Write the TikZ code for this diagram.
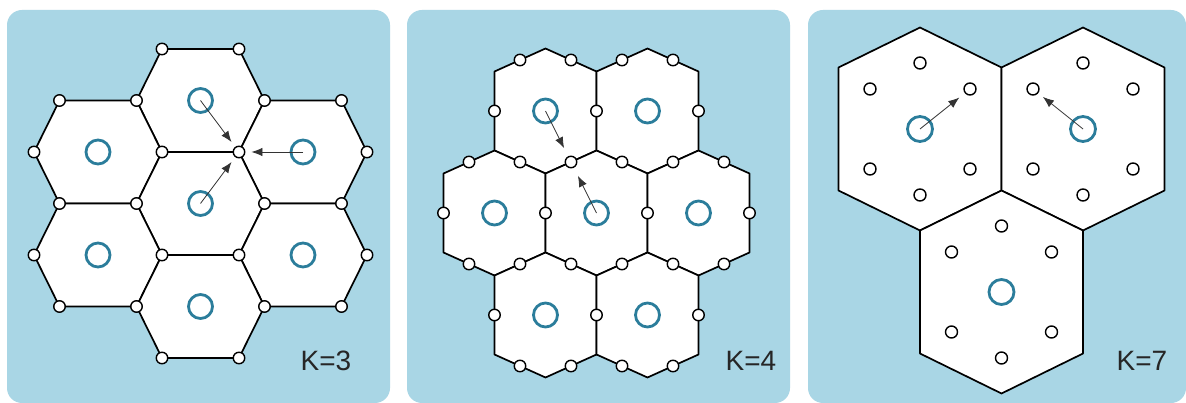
\documentclass[tikz,border=0pt]{standalone}
\usepackage{fontspec}
\setmainfont{Liberation Sans}
\usetikzlibrary{arrows.meta}
\definecolor{panelblue}{HTML}{A9D6E5}
\definecolor{cellblue}{HTML}{2B7D9B}

\begin{document}
\begin{tikzpicture}[x=1pt, y=-1pt,
  panel/.style={fill=panelblue, rounded corners=15pt},
  cell/.style={draw=black, fill=white, line width=1.7pt, line join=round},
  base/.style={circle, draw=cellblue, line width=2.8pt, minimum size=24pt, inner sep=0pt},
  user/.style={circle, draw=black, fill=white, line width=1.4pt, minimum size=11.5pt, inner sep=0pt},
  hop/.style={-{Latex[length=11pt,width=8.5pt]}, draw=black!80, line width=0.8pt},
  klabel/.style={font=\fontsize{28}{30}\selectfont, text=black!85}]
\useasboundingbox (0,0) rectangle (1186,403);
\fill[white] (0,0) rectangle (1186,403);
% panels
\fill[panel] (7,10) rectangle (390,403);
\fill[panel] (407,10) rectangle (790,403);
\fill[panel] (808,10) rectangle (1186,403);

% K=3
\foreach \cx/\cy in {200.5/100.5, 98/152, 303/152, 200.5/203.5, 98/255, 303/255, 200.5/306.5}
  \draw[cell] (\cx-64,\cy) -- (\cx-38.5,\cy-51.5) -- (\cx+38.5,\cy-51.5) -- (\cx+64,\cy)
    -- (\cx+38.5,\cy+51.5) -- (\cx-38.5,\cy+51.5) -- cycle;
\foreach \x/\y [count=\i] in {162/49, 239/49,
    59.5/100.5, 136.5/100.5, 264.5/100.5, 341.5/100.5,
    34/152, 162/152, 367/152,
    59.5/203.5, 136.5/203.5, 264.5/203.5, 341.5/203.5,
    34/255, 162/255, 239/255, 367/255,
    59.5/306.5, 136.5/306.5, 264.5/306.5, 341.5/306.5,
    162/358, 239/358}
  \node[user] (ta\i) at (\x,\y) {};
\node[user] (va) at (239,152) {};
\foreach \cx/\cy [count=\i] in {200.5/100.5, 303/152, 200.5/203.5, 98/152, 98/255, 303/255, 200.5/306.5}
  \node[base] (ba\i) at (\cx,\cy) {};
\draw[hop, shorten >=6pt] (ba1.center) -- (va);
\draw[hop, shorten >=6pt] (ba2.center) -- (va);
\draw[hop, shorten >=6pt] (ba3.center) -- (va);
\node[klabel] (k3) at (326,361) {K=3};

% K=4
\foreach \cx/\cy in {545.5/111, 647.5/111, 494.5/213, 596.5/213, 698.5/213, 545.5/315, 647.5/315}
  \draw[cell] (\cx,\cy-62.5) -- (\cx+51,\cy-39.5) -- (\cx+51,\cy+39.5) -- (\cx,\cy+62.5)
    -- (\cx-51,\cy+39.5) -- (\cx-51,\cy-39.5) -- cycle;
\foreach \x/\y [count=\i] in {520/60, 571/60, 622/60, 673/60,
    494.5/111, 596.5/111, 698.5/111,
    469/162, 520/162, 622/162, 673/162, 724/162,
    443.5/213, 545.5/213, 647.5/213, 749.5/213,
    469/264, 520/264, 571/264, 622/264, 673/264, 724/264,
    494.5/315, 596.5/315, 698.5/315,
    520/366, 571/366, 622/366, 673/366}
  \node[user] (tb\i) at (\x,\y) {};
\node[user] (vb) at (571,162) {};
\foreach \cx/\cy [count=\i] in {545.5/111, 647.5/111, 494.5/213, 596.5/213, 698.5/213, 545.5/315, 647.5/315}
  \node[base] (bb\i) at (\cx,\cy) {};
\draw[hop, shorten >=9pt] (bb1.center) -- (vb);
\draw[hop, shorten >=9pt] (bb4.center) -- (vb);
\node[klabel] (k4) at (751,361) {K=4};

% K=7
\foreach \cx/\cy [count=\i] in {920/129, 1083/129, 1001.5/292} {
  \draw[cell] (\cx,\cy-101.5) -- (\cx+81.5,\cy-61.5) -- (\cx+81.5,\cy+61.5) -- (\cx,\cy+101.5)
    -- (\cx-81.5,\cy+61.5) -- (\cx-81.5,\cy-61.5) -- cycle;
  \node[base, minimum size=25pt] (bc\i) at (\cx,\cy) {};
  \foreach \dx/\dy [count=\j] in {0/-66, 50/-40, 50/40, 0/66, -50/40, -50/-40}
    \node[user, minimum size=12pt] (uc\i-\j) at (\cx+\dx,\cy+\dy) {};
}
\draw[hop, shorten >=7pt] (bc1.center) -- (uc1-2);
\draw[hop, shorten >=6pt] (bc2.center) -- (uc2-6);
\node[klabel] (k7) at (1142,361) {K=7};
\end{tikzpicture}
\end{document}
